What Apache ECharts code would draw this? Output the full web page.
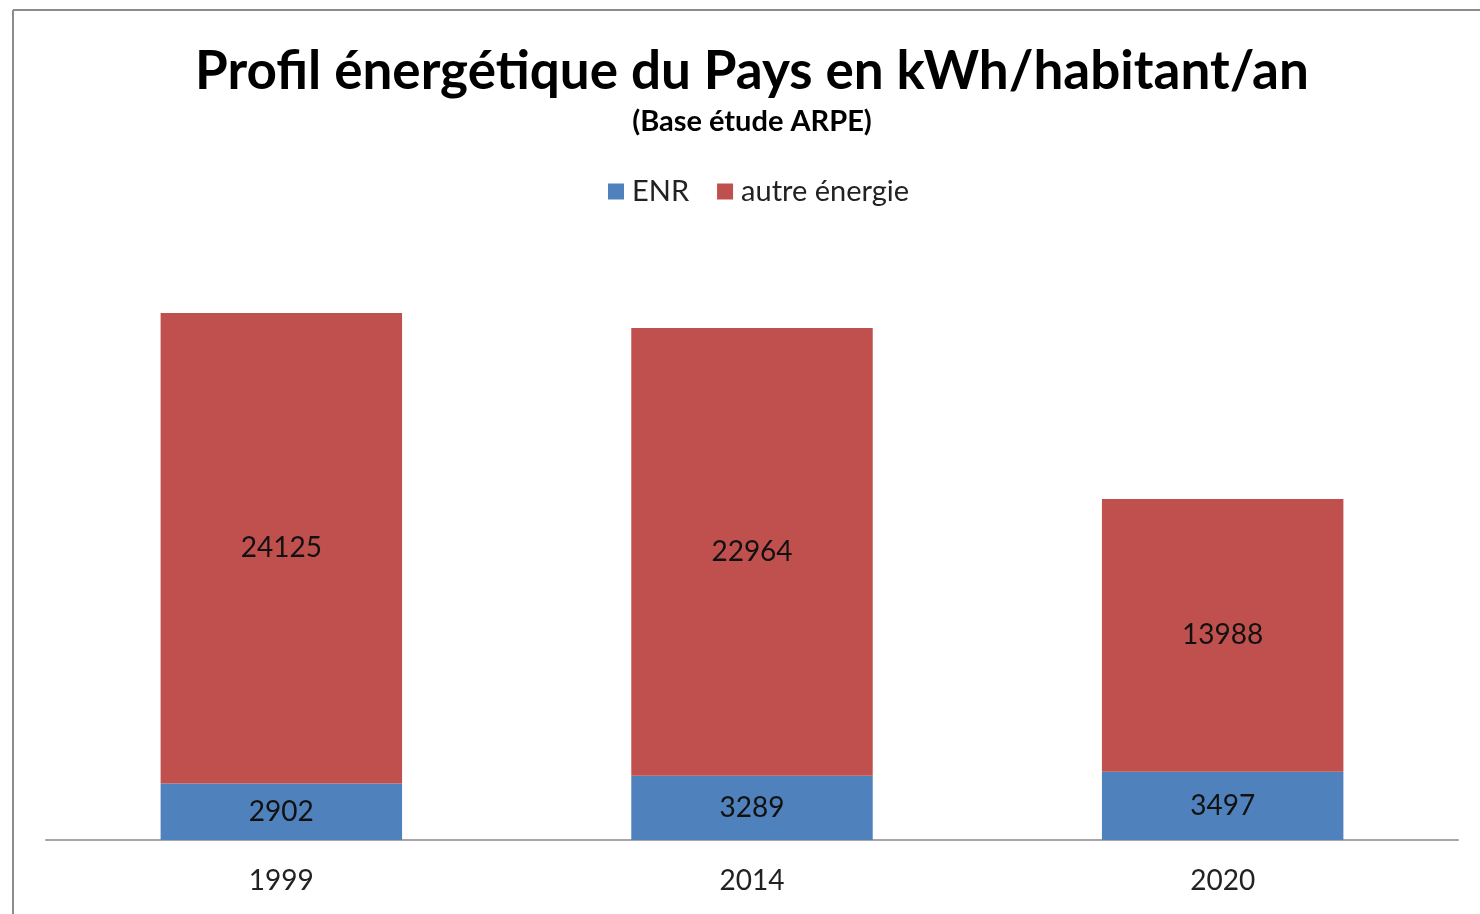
<!DOCTYPE html>
<html>
<head>
<meta charset="utf-8">
<script src="https://cdn.jsdelivr.net/npm/echarts@6/dist/echarts.min.js"></script>
<style>
  html, body { margin: 0; padding: 0; background: #fff; }
  #chart { width: 1480px; height: 914px; }
</style>
</head>
<body>
<div id="chart"></div>
<script>
const years = ['1999', '2014', '2020']
const enr = [2902, 3289, 3497]
const autre = [24125, 22964, 13988]

const font = 'Lato'
const chart = echarts.init(document.getElementById('chart'))
chart.setOption({
  animation: false,
  title: {
    text: 'Profil énergétique du Pays en kWh/habitant/an',
    subtext: '(Base étude ARPE)',
    left: 747,
    textAlign: 'center',
    top: 40,
    itemGap: 9,
    textStyle: { fontFamily: font, fontWeight: 'bold', fontSize: 53, color: '#000' },
    subtextStyle: { fontFamily: font, fontWeight: 'bold', fontSize: 29, color: '#000' }
  },
  legend: {
    top: 172,
    left: 603,
    itemWidth: 16,
    itemHeight: 16,
    itemGap: 28,
    icon: 'rect',
    textStyle: { fontFamily: font, fontSize: 29, color: '#222', padding: [0, 0, 0, 3] },
    data: ['ENR', 'autre énergie']
  },
  grid: { left: 46, right: 22, top: 255, bottom: 74 },
  xAxis: {
    type: 'category',
    data: years,
    axisLine: { lineStyle: { color: '#a6a6a6', width: 2 } },
    axisTick: { show: false },
    axisLabel: { fontFamily: font, fontSize: 28, color: '#222', margin: 27 }
  },
  yAxis: {
    type: 'value',
    min: 0,
    max: 30000,
    show: false,
    splitLine: { show: false }
  },
  graphic: [
    { type: 'line', shape: { x1: 13, y1: 10, x2: 1480, y2: 10 }, style: { stroke: '#8c8c8c', lineWidth: 2 } },
    { type: 'line', shape: { x1: 13, y1: 10, x2: 13, y2: 914 }, style: { stroke: '#8c8c8c', lineWidth: 2 } }
  ],
  series: [
    {
      name: 'ENR',
      type: 'bar',
      stack: 'total',
      barWidth: '51.3%',
      data: enr,
      itemStyle: { color: '#4F81BD' },
      label: { show: true, position: 'inside', fontFamily: font, fontSize: 28, color: '#111' }
    },
    {
      name: 'autre énergie',
      type: 'bar',
      stack: 'total',
      data: autre,
      itemStyle: { color: '#C0504D' },
      label: { show: true, position: 'inside', fontFamily: font, fontSize: 28, color: '#111' }
    }
  ]
})
</script>
</body>
</html>
